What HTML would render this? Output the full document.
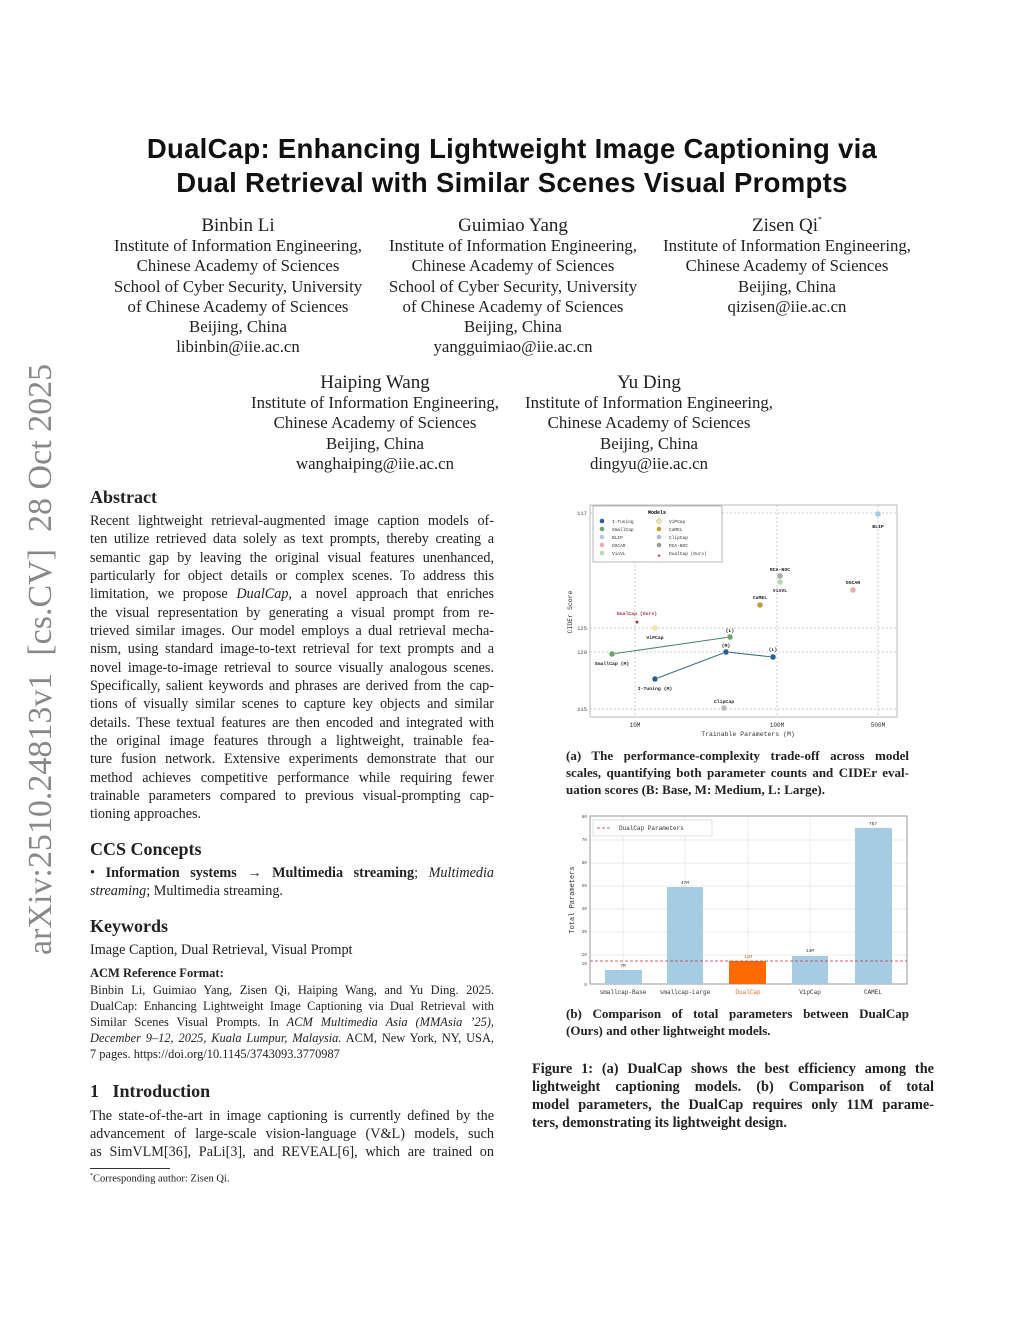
<!DOCTYPE html>
<html><head><meta charset="utf-8"><style>
*{margin:0;padding:0;box-sizing:border-box}
body{width:1024px;height:1325px;background:#fff;position:relative;overflow:hidden;font-family:"Liberation Serif",serif;color:#222}
.a{position:absolute;white-space:nowrap}
.c{position:absolute;text-align:center;font-size:16.8px;line-height:20.2px;white-space:nowrap}
.c .n{font-size:19px;line-height:20.2px}
.j{position:absolute;left:90px;width:404px;font-size:14.2px;line-height:18.35px;text-align:justify;text-align-last:justify;height:18.35px;overflow:visible;white-space:nowrap}
.r{position:absolute;left:566px;width:343px;font-size:13px;line-height:17px;font-weight:bold;text-align:justify;text-align-last:justify;white-space:nowrap}
.f{position:absolute;left:532px;width:402px;font-size:14.3px;line-height:18.3px;font-weight:bold;text-align:justify;text-align-last:justify;white-space:nowrap}
h2{position:absolute;left:90px;font-size:18px;font-weight:bold;white-space:nowrap}
</style></head><body>
<div class="a" style="left:0;width:1024px;top:132px;text-align:center;font-family:'Liberation Sans',sans-serif;font-weight:bold;font-size:27.5px;line-height:34px;color:#111;letter-spacing:0.3px">DualCap: Enhancing Lightweight Image Captioning via<br>Dual Retrieval with Similar Scenes Visual Prompts</div>

<div class="a" style="left:22px;top:955px;transform:rotate(-90deg);transform-origin:0 0;font-size:34px;color:#888;width:585px;text-align:center">arXiv:2510.24813v1 &nbsp;[cs.CV] &nbsp;28 Oct 2025</div>

<div class="c" style="left:88px;width:300px;top:216px"><span class="n">Binbin Li</span><br>Institute of Information Engineering,<br>Chinese Academy of Sciences<br>School of Cyber Security, University<br>of Chinese Academy of Sciences<br>Beijing, China<br>libinbin@iie.ac.cn</div>
<div class="c" style="left:363px;width:300px;top:216px"><span class="n">Guimiao Yang</span><br>Institute of Information Engineering,<br>Chinese Academy of Sciences<br>School of Cyber Security, University<br>of Chinese Academy of Sciences<br>Beijing, China<br>yangguimiao@iie.ac.cn</div>
<div class="c" style="left:637px;width:300px;top:216px"><span class="n">Zisen Qi<span style="font-size:8px;vertical-align:top;line-height:8px">*</span></span><br>Institute of Information Engineering,<br>Chinese Academy of Sciences<br>Beijing, China<br>qizisen@iie.ac.cn</div>
<div class="c" style="left:225px;width:300px;top:373px"><span class="n">Haiping Wang</span><br>Institute of Information Engineering,<br>Chinese Academy of Sciences<br>Beijing, China<br>wanghaiping@iie.ac.cn</div>
<div class="c" style="left:499px;width:300px;top:373px"><span class="n">Yu Ding</span><br>Institute of Information Engineering,<br>Chinese Academy of Sciences<br>Beijing, China<br>dingyu@iie.ac.cn</div>

<h2 style="top:487px">Abstract</h2>
<div class="j" style="top:512px">Recent lightweight retrieval-augmented image caption models of-</div>
<div class="j" style="top:530px">ten utilize retrieved data solely as text prompts, thereby creating a</div>
<div class="j" style="top:549px">semantic gap by leaving the original visual features unenhanced,</div>
<div class="j" style="top:567px">particularly for object details or complex scenes. To address this</div>
<div class="j" style="top:585px">limitation, we propose <i>DualCap</i>, a novel approach that enriches</div>
<div class="j" style="top:604px">the visual representation by generating a visual prompt from re-</div>
<div class="j" style="top:622px">trieved similar images. Our model employs a dual retrieval mecha-</div>
<div class="j" style="top:640px">nism, using standard image-to-text retrieval for text prompts and a</div>
<div class="j" style="top:659px">novel image-to-image retrieval to source visually analogous scenes.</div>
<div class="j" style="top:677px">Specifically, salient keywords and phrases are derived from the cap-</div>
<div class="j" style="top:695px">tions of visually similar scenes to capture key objects and similar</div>
<div class="j" style="top:714px">details. These textual features are then encoded and integrated with</div>
<div class="j" style="top:732px">the original image features through a lightweight, trainable fea-</div>
<div class="j" style="top:750px">ture fusion network. Extensive experiments demonstrate that our</div>
<div class="j" style="top:769px">method achieves competitive performance while requiring fewer</div>
<div class="j" style="top:787px">trainable parameters compared to previous visual-prompting cap-</div>
<div class="j" style="top:805px;text-align-last:left">tioning approaches.</div>

<h2 style="top:839px">CCS Concepts</h2>
<div class="j" style="top:864px">• <b>Information systems</b> → <b>Multimedia streaming</b>; <i>Multimedia</i></div>
<div class="j" style="top:882px;text-align-last:left"><i>streaming</i>; Multimedia streaming.</div>
<h2 style="top:916px">Keywords</h2>
<div class="j" style="top:941px;text-align-last:left">Image Caption, Dual Retrieval, Visual Prompt</div>
<div class="a" style="left:90px;top:966px;font-size:12.5px;font-weight:bold">ACM Reference Format:</div>
<div class="j" style="top:982px;font-size:12.4px;line-height:16.3px">Binbin Li, Guimiao Yang, Zisen Qi, Haiping Wang, and Yu Ding. 2025.</div>
<div class="j" style="top:998px;font-size:12.4px;line-height:16.3px">DualCap: Enhancing Lightweight Image Captioning via Dual Retrieval with</div>
<div class="j" style="top:1014px;font-size:12.4px;line-height:16.3px">Similar Scenes Visual Prompts. In <i>ACM Multimedia Asia (MMAsia ’25),</i></div>
<div class="j" style="top:1030px;font-size:12.4px;line-height:16.3px"><i>December 9–12, 2025, Kuala Lumpur, Malaysia.</i> ACM, New York, NY, USA,</div>
<div class="j" style="top:1046px;font-size:12.4px;line-height:16.3px;text-align-last:left">7 pages. https://doi.org/10.1145/3743093.3770987</div>
<h2 style="top:1081px">1&nbsp;&nbsp;&nbsp;Introduction</h2>
<div class="j" style="top:1107px">The state-of-the-art in image captioning is currently defined by the</div>
<div class="j" style="top:1125px">advancement of large-scale vision-language (V&amp;L) models, such</div>
<div class="j" style="top:1143px">as SimVLM[36], PaLi[3], and REVEAL[6], which are trained on</div>
<div class="a" style="left:90px;top:1168px;width:80px;border-top:1px solid #333"></div>
<div class="a" style="left:90px;top:1173px;font-size:10.5px"><sup style="font-size:6px">*</sup>Corresponding author: Zisen Qi.</div>

<!-- Chart a -->
<svg class="a" style="left:560px;top:500px" width="350" height="245" viewBox="560 500 350 245" font-family="Liberation Mono,monospace">
<rect x="590" y="505" width="307" height="212" fill="none" stroke="#bbb"/>
<g stroke="#bbb" stroke-dasharray="2,2" stroke-width="0.7">
<line x1="590" x2="897" y1="513" y2="513"/><line x1="590" x2="897" y1="628" y2="628"/><line x1="590" x2="897" y1="652" y2="652"/><line x1="590" x2="897" y1="709" y2="709"/>
<line y1="505" y2="717" x1="635" x2="635"/><line y1="505" y2="717" x1="777" x2="777"/><line y1="505" y2="717" x1="878" x2="878"/></g>
<g font-size="5.5" fill="#444" text-anchor="end"><text x="587" y="515">117</text><text x="587" y="630">125</text><text x="587" y="654">120</text><text x="587" y="711">115</text></g>
<g font-size="6" fill="#333" text-anchor="middle"><text x="635" y="727">10M</text><text x="777" y="727">100M</text><text x="878" y="727">500M</text>
<text x="748" y="736" font-size="6.5">Trainable Parameters (M)</text>
<text transform="translate(572,612) rotate(-90)" font-size="6.5">CIDEr Score</text></g>
<polyline points="612,654 730,637" stroke="#4a8a6a" fill="none"/>
<polyline points="655,679 726,652 773,657" stroke="#3a6a8a" fill="none"/>
<g stroke="#fff" stroke-width="0.5">
<circle cx="655" cy="679" r="3" fill="#2b5f92"/><circle cx="726" cy="652" r="3" fill="#2b5f92"/><circle cx="773" cy="657" r="3" fill="#2b5f92"/>
<circle cx="612" cy="654" r="3" fill="#6aa56a"/><circle cx="730" cy="637" r="3" fill="#6aa56a"/>
<circle cx="878" cy="514" r="3" fill="#a8c8e8"/><circle cx="853" cy="590" r="3" fill="#f0a8b0"/>
<circle cx="780" cy="582" r="3" fill="#b8d8b0"/><circle cx="780" cy="576" r="3" fill="#aaa"/>
<circle cx="760" cy="605" r="3" fill="#c0a030"/><circle cx="655" cy="628" r="3" fill="#f0e8a0"/><circle cx="724" cy="708" r="3" fill="#bbb"/></g>
<text x="637" y="624" font-size="8" fill="#8b1a2a" text-anchor="middle">★</text>
<g font-size="4.8" fill="#222" font-weight="bold" text-anchor="middle">
<text x="878" y="528">BLIP</text><text x="853" y="584">OSCAR</text><text x="780" y="571">RCA-NOC</text><text x="780" y="592">VinVL</text><text x="760" y="599">CaMEL</text>
<text x="655" y="639">ViPCap</text><text x="612" y="665">SmallCap (M)</text><text x="655" y="690">I-Tuning (M)</text><text x="724" y="703">ClipCap</text>
<text x="730" y="632">(L)</text><text x="726" y="647">(M)</text><text x="773" y="651">(L)</text>
<text x="637" y="615" fill="#b03040">DualCap (Ours)</text></g>
<rect x="593" y="506" width="129" height="56" fill="#fff" stroke="#999" stroke-width="0.7"/>
<text x="657" y="514" font-size="5" text-anchor="middle" font-weight="bold">Models</text>
<g font-size="4.5" fill="#333">
<circle cx="602" cy="521" r="2.3" fill="#2b5f92"/><text x="612" y="523">I-Tuning</text>
<circle cx="602" cy="529" r="2.3" fill="#6aa56a"/><text x="612" y="531">SmallCap</text>
<circle cx="602" cy="537" r="2.3" fill="#a8c8e8"/><text x="612" y="539">BLIP</text>
<circle cx="602" cy="545" r="2.3" fill="#f0a8b0"/><text x="612" y="547">OSCAR</text>
<circle cx="602" cy="553" r="2.3" fill="#b8d8b0"/><text x="612" y="555">VinVL</text>
<circle cx="659" cy="521" r="2.3" fill="#f0e8a0" stroke="#888" stroke-width="0.4"/><text x="669" y="523">ViPCap</text>
<circle cx="659" cy="529" r="2.3" fill="#c0a030"/><text x="669" y="531">CaMEL</text>
<circle cx="659" cy="537" r="2.3" fill="#bbb"/><text x="669" y="539">ClipCap</text>
<circle cx="659" cy="545" r="2.3" fill="#999"/><text x="669" y="547">RCA-NOC</text>
<text x="659" y="557" fill="#8b1a2a" text-anchor="middle" font-size="6">★</text><text x="669" y="555">DualCap (Ours)</text></g>
</svg>
<div class="r" style="top:747px">(a) The performance-complexity trade-off across model</div>
<div class="r" style="top:764px">scales, quantifying both parameter counts and CIDEr eval-</div>
<div class="r" style="top:781px;text-align-last:left">uation scores (B: Base, M: Medium, L: Large).</div>

<!-- Chart b -->
<svg class="a" style="left:560px;top:810px" width="350" height="190" viewBox="560 810 350 190" font-family="Liberation Mono,monospace">
<g stroke="#e4e4e4" stroke-width="0.7">
<line x1="590" x2="907" y1="840" y2="840"/><line x1="590" x2="907" y1="863" y2="863"/><line x1="590" x2="907" y1="886" y2="886"/><line x1="590" x2="907" y1="909" y2="909"/><line x1="590" x2="907" y1="932" y2="932"/><line x1="590" x2="907" y1="955" y2="955"/>
<line y1="816" y2="984" x1="623" x2="623"/><line y1="816" y2="984" x1="685" x2="685"/><line y1="816" y2="984" x1="748" x2="748"/><line y1="816" y2="984" x1="810" x2="810"/><line y1="816" y2="984" x1="873" x2="873"/></g>
<rect x="590" y="816" width="317" height="168" fill="none" stroke="#999"/>
<rect x="605" y="970" width="37" height="14" fill="#a6cce4"/>
<rect x="667" y="887" width="36" height="97" fill="#a6cce4"/>
<rect x="729" y="961" width="37" height="23" fill="#ff6a00"/>
<rect x="792" y="956" width="36" height="28" fill="#a6cce4"/>
<rect x="855" y="828" width="37" height="156" fill="#a6cce4"/>
<line x1="590" x2="907" y1="961" y2="961" stroke="#c03040" stroke-dasharray="3,2" stroke-width="0.8"/>
<g font-size="4.5" fill="#333" text-anchor="middle"><text x="623" y="967">7M</text><text x="685" y="884">47M</text><text x="748" y="958" fill="#c06020">11M</text><text x="810" y="952">14M</text><text x="873" y="825">757</text></g>
<g font-size="4.5" fill="#555" text-anchor="end"><text x="587" y="818">80</text><text x="587" y="841">70</text><text x="587" y="864">60</text><text x="587" y="887">50</text><text x="587" y="910">40</text><text x="587" y="933">30</text><text x="587" y="956">20</text><text x="587" y="965">10</text><text x="587" y="986">0</text></g>
<g font-size="6" fill="#333" text-anchor="middle"><text x="623" y="994">smallcap-Base</text><text x="685" y="994">smallcap-Large</text><text x="748" y="994" fill="#e07020">DualCap</text><text x="810" y="994">VipCap</text><text x="873" y="994">CAMEL</text>
<text transform="translate(574,900) rotate(-90)" font-size="7">Total Parameters</text></g>
<rect x="593" y="820" width="119" height="16" fill="#fff" stroke="#ccc" stroke-width="0.6"/>
<line x1="597" x2="612" y1="828" y2="828" stroke="#c03040" stroke-dasharray="3,2" stroke-width="0.8"/>
<text x="619" y="830" font-size="6" fill="#333">DualCap Parameters</text>
</svg>
<div class="r" style="top:1005px">(b) Comparison of total parameters between DualCap</div>
<div class="r" style="top:1022px;text-align-last:left">(Ours) and other lightweight models.</div>

<div class="f" style="top:1060px">Figure 1: (a) DualCap shows the best efficiency among the</div>
<div class="f" style="top:1078px">lightweight captioning models. (b) Comparison of total</div>
<div class="f" style="top:1096px">model parameters, the DualCap requires only 11M parame-</div>
<div class="f" style="top:1114px;text-align-last:left">ters, demonstrating its lightweight design.</div>
</body></html>
